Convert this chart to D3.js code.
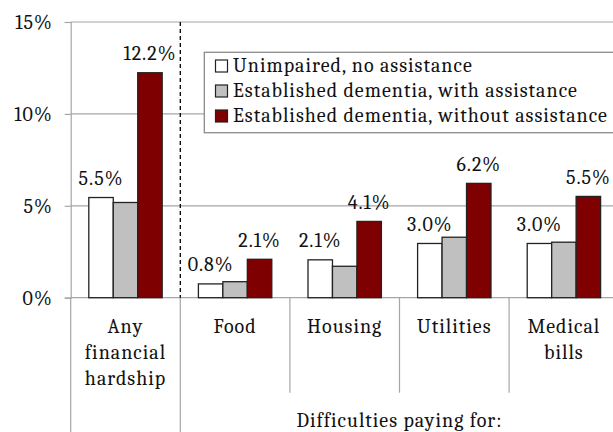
<!DOCTYPE html>
<html>
<head>
<meta charset="utf-8">
<script src="https://cdn.jsdelivr.net/npm/d3@7"></script>
<style>
  body { margin: 0; background: #fff; }
  svg text { font-family: Cambria, "Liberation Serif", serif; letter-spacing: 1px; }
</style>
</head>
<body>
<div id="chart"></div>
<script>
// chart values
const CATEGORIES = ["Any financial hardship", "Food", "Housing", "Utilities", "Medical bills"];
const CATEGORY_LINES = [["Any", "financial", "hardship"], ["Food"], ["Housing"], ["Utilities"], ["Medical", "bills"]];
const SERIES = ["Unimpaired, no assistance", "Established dementia, with assistance", "Established dementia, without assistance"];
const UNIMPAIRED = [5.45, 0.75, 2.06, 2.95, 2.95];
const WITH_ASSIST = [5.18, 0.87, 1.71, 3.29, 3.02];
const WITHOUT_ASSIST = [12.24, 2.09, 4.15, 6.22, 5.51];
const UNIMPAIRED_LABELS = ["5.5%", "0.8%", "2.1%", "3.0%", "3.0%"];
const WITHOUT_LABELS = ["12.2%", "2.1%", "4.1%", "6.2%", "5.5%"];
const Y_TICKS = [0, 5, 10, 15];
const GROUP_TITLE = "Difficulties paying for:";

const COLORS = ["#ffffff", "#c0c0c0", "#7f0000"];
const WIDTH = 613, HEIGHT = 432;
const FONT_SIZE = 20;

const seriesValues = [UNIMPAIRED, WITH_ASSIST, WITHOUT_ASSIST];

const svg = d3.select("#chart").append("svg")
  .attr("width", WIDTH)
  .attr("height", HEIGHT);

const plot = { left: 70.7, right: 618.7, top: 22, bottom: 297.7 };

const xScale = d3.scaleBand()
  .domain(CATEGORIES)
  .range([plot.left, plot.right])
  .paddingInner(0)
  .paddingOuter(0);

const innerScale = d3.scaleBand()
  .domain(SERIES)
  .range([0, xScale.bandwidth()])
  .paddingInner(0)
  .paddingOuter(0.74);

const yScale = d3.scaleLinear().domain([0, 15]).range([plot.bottom, plot.top]);

// gridlines + y axis
const yAxis = d3.axisLeft(yScale)
  .tickValues(Y_TICKS)
  .tickSize(6)
  .tickFormat(d => d + "%");

svg.append("g")
  .attr("class", "grid")
  .selectAll("line")
  .data(Y_TICKS)
  .join("line")
  .attr("x1", plot.left)
  .attr("x2", WIDTH + 10)
  .attr("y1", d => yScale(d))
  .attr("y2", d => yScale(d))
  .attr("stroke", "#a6a6a6")
  .attr("stroke-width", 1.2);

const yG = svg.append("g")
  .attr("transform", `translate(${plot.left},0)`)
  .call(yAxis)
  .attr("font-family", null)
  .attr("font-size", null);
yG.select(".domain").attr("stroke", "#a6a6a6").attr("stroke-width", 1.2);
yG.selectAll(".tick line").attr("stroke", "#a6a6a6").attr("stroke-width", 1.2);
yG.selectAll(".tick text")
  .attr("x", -18)
  .attr("font-size", FONT_SIZE)
  .attr("fill", "#111");

// category dividers below the axis
const dividerX = CATEGORIES.map(c => xScale(c)).concat([plot.right]);
svg.append("g")
  .selectAll("line")
  .data(dividerX)
  .join("line")
  .attr("x1", d => d)
  .attr("x2", d => d)
  .attr("y1", plot.bottom)
  .attr("y2", (d, i) => (i <= 1 ? HEIGHT : 392.7))
  .attr("stroke", "#a6a6a6")
  .attr("stroke-width", 1.2);

// dashed separator after first category
svg.append("line")
  .attr("x1", xScale(CATEGORIES[1]))
  .attr("x2", xScale(CATEGORIES[1]))
  .attr("y1", plot.top)
  .attr("y2", plot.bottom)
  .attr("stroke", "#000")
  .attr("stroke-width", 1.3)
  .attr("stroke-dasharray", "4,3");

// legend box (drawn before bars so it hides the 10% gridline only)
const legend = svg.append("g");
legend.append("rect")
  .attr("x", 204.3)
  .attr("y", 52.3)
  .attr("width", 420)
  .attr("height", 80.4)
  .attr("fill", "#fff")
  .attr("stroke", "#8c8c8c")
  .attr("stroke-width", 1.3);

const legendRow = legend.selectAll(".legend-row")
  .data(SERIES)
  .join("g")
  .attr("class", "legend-row")
  .attr("transform", (d, i) => `translate(215,${72 + i * 25})`);
legendRow.append("rect")
  .attr("x", 0.5)
  .attr("y", -12)
  .attr("width", 12)
  .attr("height", 12)
  .attr("fill", (d, i) => COLORS[i])
  .attr("stroke", "#222")
  .attr("stroke-width", 1.2);
legendRow.append("text")
  .attr("x", 18)
  .attr("y", 0)
  .attr("font-size", FONT_SIZE)
  .attr("fill", "#111")
  .text(d => d);

// bars
const groups = svg.append("g")
  .selectAll(".series")
  .data(SERIES)
  .join("g")
  .attr("class", "series")
  .attr("fill", (d, i) => COLORS[i]);

groups.selectAll("rect")
  .data((s, si) => CATEGORIES.map((c, ci) => ({ series: s, cat: c, value: seriesValues[si][ci] })))
  .join("rect")
  .attr("x", d => xScale(d.cat) + innerScale(d.series))
  .attr("width", innerScale.bandwidth())
  .attr("y", d => yScale(d.value))
  .attr("height", d => yScale(0) - yScale(d.value))
  .attr("stroke", "#222")
  .attr("stroke-width", 1.3);

// value labels (white and dark red bars only)
const labelData = CATEGORIES.flatMap((c, ci) => [
  { series: SERIES[0], cat: c, value: UNIMPAIRED[ci], label: UNIMPAIRED_LABELS[ci] },
  { series: SERIES[2], cat: c, value: WITHOUT_ASSIST[ci], label: WITHOUT_LABELS[ci] },
]);
svg.append("g")
  .selectAll("text")
  .data(labelData)
  .join("text")
  .attr("x", d => xScale(d.cat) + innerScale(d.series) + innerScale.bandwidth() / 2)
  .attr("y", d => yScale(d.value) - 12.5)
  .attr("text-anchor", "middle")
  .attr("font-size", FONT_SIZE)
  .attr("fill", "#111")
  .text(d => d.label);

// category labels
const catLabel = svg.append("g")
  .selectAll("text")
  .data(CATEGORIES)
  .join("text")
  .attr("text-anchor", "middle")
  .attr("font-size", FONT_SIZE)
  .attr("fill", "#111");
catLabel.selectAll("tspan")
  .data((d, i) => CATEGORY_LINES[i].map(line => ({ cat: d, line })))
  .join("tspan")
  .attr("x", d => xScale(d.cat) + xScale.bandwidth() / 2)
  .attr("y", (d, i) => 333 + i * 26)
  .text(d => d.line);

// group title under the four spending categories
svg.append("text")
  .attr("x", (xScale(CATEGORIES[1]) + plot.right) / 2)
  .attr("y", 426.5)
  .attr("text-anchor", "middle")
  .attr("font-size", FONT_SIZE)
  .attr("fill", "#111")
  .text(GROUP_TITLE);
</script>
</body>
</html>
